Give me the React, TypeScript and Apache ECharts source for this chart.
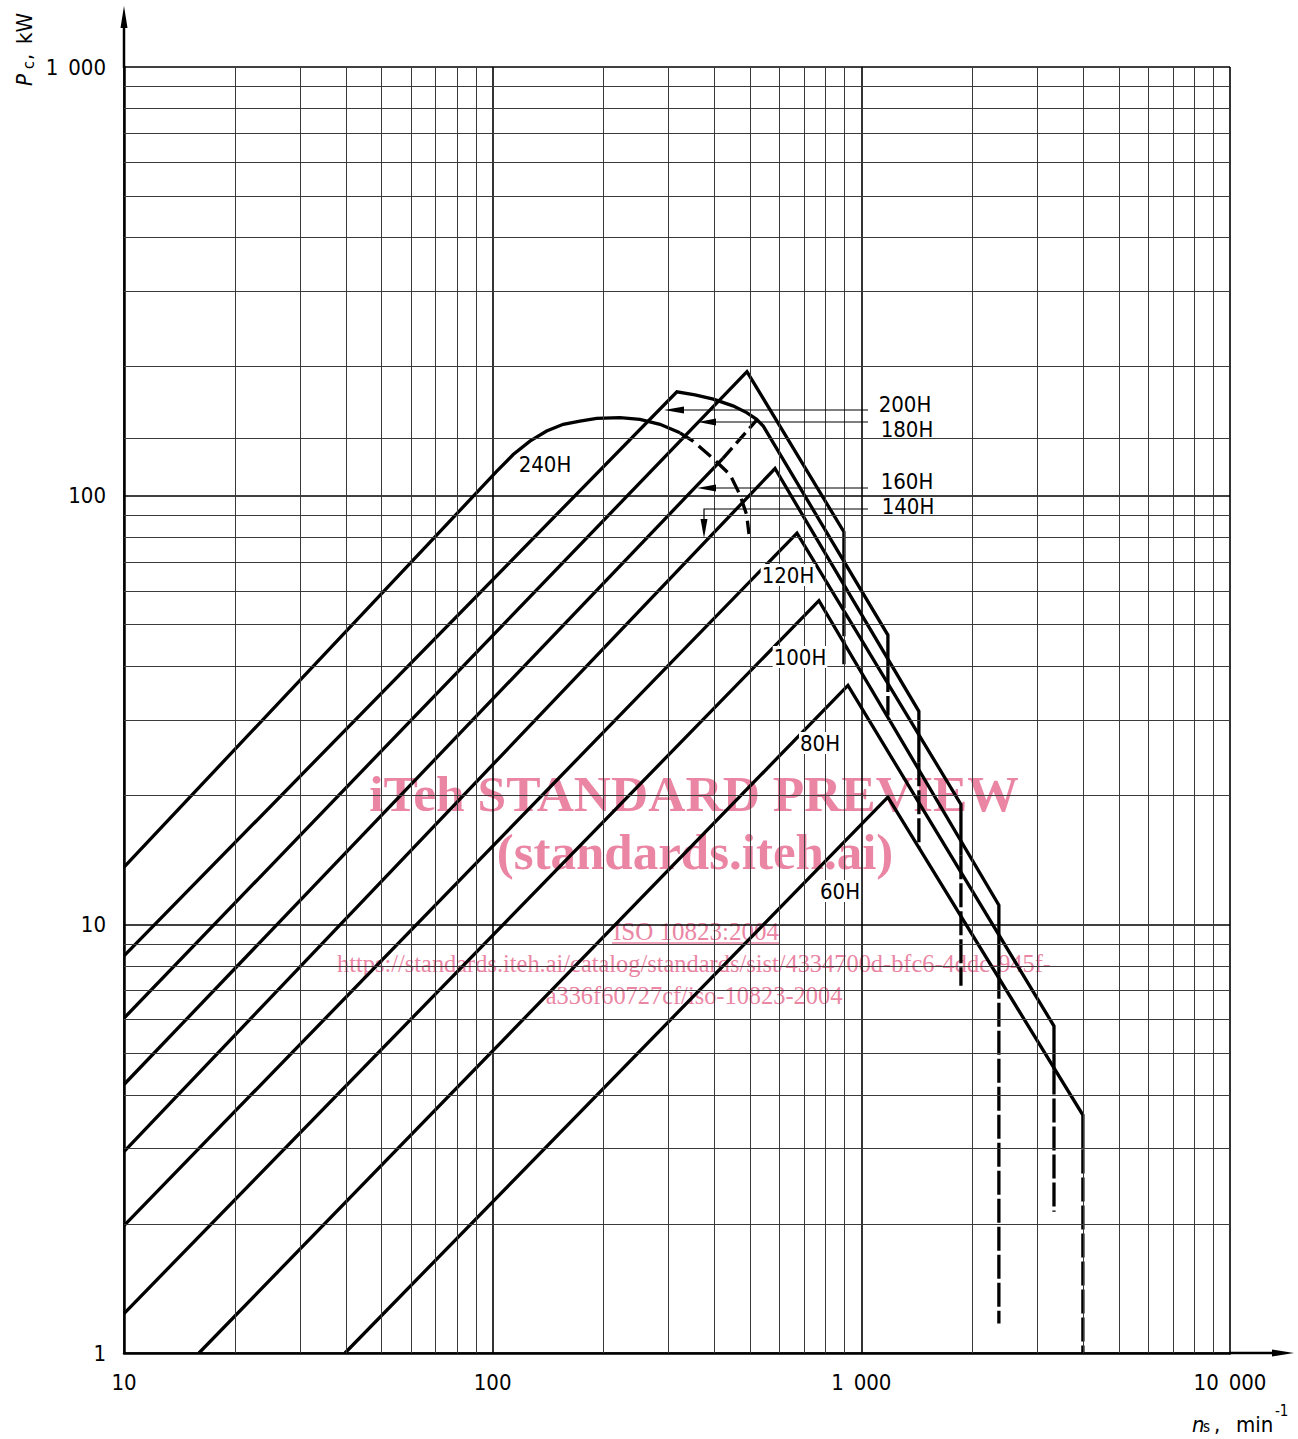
import React, { useEffect, useRef } from "react";
import * as echarts from "echarts";

// ---------- axis / grid values ----------
const xRange = [10, 10000];
const yRange = [1, 1000];
const xMinorGrid = [20, 30, 40, 50, 60, 70, 80, 90, 200, 300, 400, 500, 600, 700, 800, 900, 2000, 3000, 4000, 5000, 6000, 7000, 8000, 9000];
const yMinorGrid = [2, 3, 4, 5, 6, 7, 8, 9, 20, 30, 40, 50, 60, 70, 80, 90, 136, 200, 300, 400, 500, 600, 700, 800, 900];

// ---------- curves (ns [min^-1], Pc [kW]) ----------
const c240Solid = [[10, 13.6], [102.5, 113.9], [113.7, 124.7], [126.2, 134.0], [140.1, 141.5], [155.4, 146.7], [172.5, 149.3], [191.5, 151.5], [221.4, 152.0], [250.9, 150.7], [284.3, 146.7], [322.1, 140.2]];
const c240Dash = [[322.1, 140.2], [349.4, 134.0], [395.9, 122.2], [440.1, 112.0], [468.5, 100.6], [488.6, 90.2], [495.7, 81.4]];
const c200Solid = [[10, 8.44], [316, 174.7], [353.9, 171.9], [396.7, 168.0], [448.5, 162.0], [488.6, 156.2], [520.0, 150.7], [541.9, 145.3], [1180.5, 47.3], [1180.5, 39.6]];
const c200Dash = [[1180.5, 39.6], [1180.5, 30.7]];
const c180Solid = [[10, 6.04], [489.5, 194.7], [897, 82.3], [897, 62.1]];
const c180Dash = [[897, 62.1], [897, 40.0]];
const c160Solid = [[10, 4.23], [421.3, 122.2]];
const c160Dash = [[421.3, 122.2], [520, 150]];
const c140Solid = [[10, 2.951], [583.2, 115.7], [1432.5, 31.4], [1432.5, 23.9]];
const c140Dash = [[1432.5, 23.9], [1432.5, 15.1]];
const c120Solid = [[10, 1.983], [669, 81.8], [1862.8, 19.05], [1862.8, 14.5]];
const c120Dash = [[1862.8, 14.5], [1862.8, 7.19]];
const c100Solid = [[10, 1.236], [767.4, 56.9], [2361, 11.08], [2361, 7.63]];
const c100Dash = [[2361, 7.63], [2361, 1.172]];
const c80Solid = [[15.97, 1], [919.8, 36.1], [3331, 5.79], [3331, 4.56]];
const c80Dash = [[3331, 4.56], [3331, 2.135]];
const c60Solid = [[39.76, 1], [1180.5, 19.8], [3990, 3.59], [3990, 2.984]];
const c60Dash = [[3990, 2.984], [3990, 1]];

const curveLabels = ["240H", "200H", "180H", "160H", "140H", "120H", "100H", "80H", "60H"];

const FONT = "'Liberation Sans Narrow', 'DejaVu Sans Condensed', 'Liberation Sans', sans-serif";
const SERIF = "'Liberation Serif', 'DejaVu Serif', serif";
const PINK = "#ea86a4";
const FS = 22;

const fmt = (v: number) => {
  const r = Math.round(v);
  return r >= 1000 ? String(r).replace(/\B(?=(\d{3})+(?!\d))/g, "\u2002") : String(r);
};

function curve(name: string, data: number[][], dash: number[] | null) {
  return {
    type: "line",
    name,
    data,
    symbol: "none",
    showSymbol: false,
    silent: true,
    z: 3,
    lineStyle: { color: "#000", width: 3.3, type: dash ? dash : "solid", join: "miter", cap: "butt" },
  };
}

const labelText = (text: string, x: number, y: number, bg: boolean) => ({
  type: "text",
  x,
  y,
  z: 10,
  style: {
    text,
    fontSize: FS,
    fontFamily: FONT,
    fill: "#000",
    align: "center",
    verticalAlign: "middle",
    backgroundColor: bg ? "#fff" : undefined,
    padding: bg ? [0, 1] : 0,
  },
});

const thin = { stroke: "#000", lineWidth: 1.2 };

export default function App() {
  const ref = useRef<HTMLDivElement>(null);
  useEffect(() => {
    if (!ref.current) return;
    const chart = echarts.init(ref.current, undefined, { renderer: "svg" });
    const axisCommon = {
      type: "log",
      logBase: 10,
      axisLine: { show: true, lineStyle: { color: "#000", width: 2.5 } },
      axisTick: { show: false },
      splitLine: { show: true, lineStyle: { color: "#000", width: 1.6 } },
      axisLabel: { fontSize: FS, fontFamily: FONT, color: "#000", formatter: fmt },
    };
    const dashV = [24, 4];
    const dashArc = [16, 7];
    const wm = (text: string, x: number, y: number, size: number, bold: boolean) => ({
      type: "text",
      x,
      y,
      z: 0,
      style: {
        text,
        fontSize: size,
        fontWeight: bold ? "bold" : "normal",
        fontFamily: SERIF,
        fill: PINK,
        align: "center",
        verticalAlign: "middle",
        lineHeight: Math.round(size * 0.8),
      },
    });
    const option: any = {
      animation: false,
      backgroundColor: "#fff",
      grid: { left: 124, right: 68, top: 67, bottom: 86 },
      xAxis: { ...axisCommon, min: xRange[0], max: xRange[1], axisLabel: { ...axisCommon.axisLabel, margin: 18 } },
      yAxis: { ...axisCommon, min: yRange[0], max: yRange[1], axisLabel: { ...axisCommon.axisLabel, margin: 18 } },
      series: [
        {
          type: "line",
          data: [],
          z: 1,
          silent: true,
          markLine: {
            silent: true,
            animation: false,
            symbol: ["none", "none"],
            label: { show: false },
            lineStyle: { color: "#3a3a3a", width: 1, type: "solid" },
            data: [...xMinorGrid.map((v) => ({ xAxis: v })), ...yMinorGrid.map((v) => ({ yAxis: v }))],
          },
        },
        curve("240H", c240Solid, null),
        curve("240H-d", c240Dash, dashArc),
        curve("200H", c200Solid, null),
        curve("200H-d", c200Dash, dashV),
        curve("180H", c180Solid, null),
        curve("180H-d", c180Dash, dashV),
        curve("160H", c160Solid, null),
        curve("160H-d", c160Dash, [14, 6]),
        curve("140H", c140Solid, null),
        curve("140H-d", c140Dash, dashV),
        curve("120H", c120Solid, null),
        curve("120H-d", c120Dash, dashV),
        curve("100H", c100Solid, null),
        curve("100H-d", c100Dash, dashV),
        curve("80H", c80Solid, null),
        curve("80H-d", c80Dash, dashV),
        curve("60H", c60Solid, null),
        curve("60H-d", c60Dash, dashV),
      ],
      graphic: [
        // watermark
        wm("iTeh STANDARD PREVIEW", 694, 793, 51.5, true),
        wm("(standards.iteh.ai)", 695, 852, 51, true),
        wm("ISO 10823:2004", 696, 931, 25, false),
        { type: "line", z: 0, shape: { x1: 612, y1: 943, x2: 780, y2: 943 }, style: { stroke: PINK, lineWidth: 1.5 } },
        wm("https://standards.iteh.ai/catalog/standards/sist/4334700d-bfc6-4ddc-945f-", 694, 963, 24.4, false),
        wm("a336f60727cf/iso-10823-2004", 694, 995, 24.4, false),
        // axis arrows
        { type: "line", z: 5, shape: { x1: 124, y1: 68, x2: 124, y2: 24 }, style: { stroke: "#000", lineWidth: 2.5 } },
        { type: "polygon", z: 5, shape: { points: [[124, 6], [120.5, 28], [127.5, 28]] }, style: { fill: "#000" } },
        { type: "line", z: 5, shape: { x1: 1229, y1: 1353, x2: 1275, y2: 1353 }, style: { stroke: "#000", lineWidth: 2.5 } },
        { type: "polygon", z: 5, shape: { points: [[1294, 1353], [1272, 1349.5], [1272, 1356.5]] }, style: { fill: "#000" } },
        // axis names
        {
          type: "group",
          x: 24,
          y: 86,
          rotation: Math.PI / 2,
          children: [
            { type: "text", x: 0, y: 0, style: { text: "P", fontSize: FS, fontStyle: "italic", fontFamily: FONT, fill: "#000", align: "left", verticalAlign: "middle" } },
            { type: "text", x: 17, y: 4, style: { text: "c", fontSize: 16, fontFamily: FONT, fill: "#000", align: "left", verticalAlign: "middle" } },
            { type: "text", x: 26, y: 0, style: { text: ",", fontSize: FS, fontFamily: FONT, fill: "#000", align: "left", verticalAlign: "middle" } },
            { type: "text", x: 42, y: 0, style: { text: "kW", fontSize: FS, fontFamily: FONT, fill: "#000", align: "left", verticalAlign: "middle" } },
          ],
        },
        { type: "text", x: 1192, y: 1424, style: { text: "n", fontSize: FS, fontStyle: "italic", fontFamily: FONT, fill: "#000", align: "left", verticalAlign: "middle" } },
        { type: "text", x: 1203, y: 1427, style: { text: "s", fontSize: 15, fontFamily: FONT, fill: "#000", align: "left", verticalAlign: "middle" } },
        { type: "text", x: 1214, y: 1424, style: { text: ",", fontSize: FS, fontFamily: FONT, fill: "#000", align: "left", verticalAlign: "middle" } },
        { type: "text", x: 1236, y: 1424, style: { text: "min", fontSize: FS, fontFamily: FONT, fill: "#000", align: "left", verticalAlign: "middle" } },
        { type: "text", x: 1275, y: 1411, style: { text: "-1", fontSize: 15, fontFamily: FONT, fill: "#000", align: "left", verticalAlign: "middle" } },
        // leaders
        { type: "line", z: 6, shape: { x1: 683, y1: 410, x2: 868, y2: 410 }, style: thin },
        { type: "polygon", z: 6, shape: { points: [[664, 410], [684, 406.5], [684, 413.5]] }, style: { fill: "#000" } },
        { type: "line", z: 6, shape: { x1: 715, y1: 422, x2: 868, y2: 422 }, style: thin },
        { type: "polygon", z: 6, shape: { points: [[698, 422], [716, 418.5], [716, 425.5]] }, style: { fill: "#000" } },
        { type: "line", z: 6, shape: { x1: 715, y1: 488, x2: 868, y2: 488 }, style: thin },
        { type: "polygon", z: 6, shape: { points: [[697, 488], [716, 484.5], [716, 491.5]] }, style: { fill: "#000" } },
        { type: "polyline", z: 6, shape: { points: [[868, 509], [704, 509], [704, 521]] }, style: { ...thin, fill: null } },
        { type: "polygon", z: 6, shape: { points: [[704, 538], [700.5, 519], [707.5, 519]] }, style: { fill: "#000" } },
        // curve labels
        labelText(curveLabels[0], 545, 464, true),
        labelText(curveLabels[1], 905, 404, false),
        labelText(curveLabels[2], 907, 429, false),
        labelText(curveLabels[3], 907, 481, false),
        labelText(curveLabels[4], 908, 506, false),
        labelText(curveLabels[5], 788, 575, true),
        labelText(curveLabels[6], 800, 657, true),
        labelText(curveLabels[7], 820, 743, true),
        labelText(curveLabels[8], 840, 891, true),
      ],
    };
    chart.setOption(option);
    return () => chart.dispose();
  }, []);
  return <div ref={ref} style={{ position: "fixed", left: 0, top: 0, width: 1298, height: 1439, background: "#fff" }} />;
}
